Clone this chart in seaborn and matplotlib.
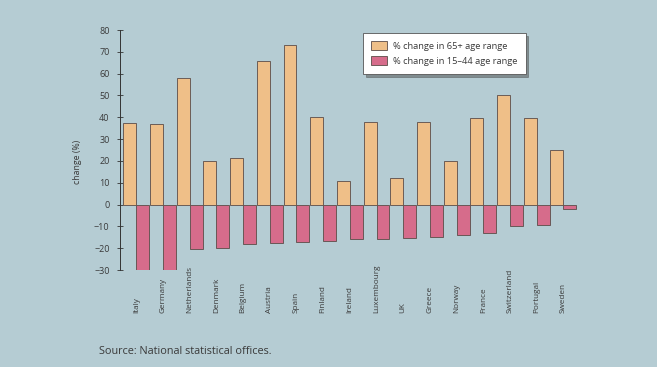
import matplotlib
matplotlib.use("Agg")
import matplotlib.pyplot as plt
import seaborn as sns
import pandas as pd

countries = ["Italy", "Germany", "Netherlands", "Denmark", "Belgium", "Austria", "Spain",
             "Finland", "Ireland", "Luxembourg", "UK", "Greece", "Norway", "France",
             "Switzerland", "Portugal", "Sweden"]
change_65plus = [37.5, 37, 58, 20, 21.5, 66, 73, 40, 11, 38, 12, 38, 20, 39.5, 50, 39.5, 25]
change_15_44 = [-30, -30, -20.5, -20, -18, -17.5, -17, -16.5, -16, -16, -15.5, -15, -14, -13,
                -10, -9.5, -2]
series_names = ["% change in 65+ age range", "% change in 15\u201344 age range"]
y_ticks = [-30, -20, -10, 0, 10, 20, 30, 40, 50, 60, 70, 80]
y_label = "change (%)"
source_text = "Source: National statistical offices."

BG = "#b5ccd3"
ORANGE = "#efbf88"
PINK = "#d66c8b"
TXT = "#3a3a3a"

df = pd.DataFrame({
    "country": countries * 2,
    "series": [series_names[0]] * len(countries) + [series_names[1]] * len(countries),
    "value": change_65plus + change_15_44,
})

sns.set_theme(style="white")
plt.rcParams["font.family"] = ["Open Sans", "DejaVu Sans"]

W, H = 657, 367
fig = plt.figure(figsize=(W / 100, H / 100), dpi=100, facecolor=BG)
ax_left, ax_right, ax_top, ax_bottom = 120, 600, 30, 270
ax = fig.add_axes([ax_left / W, 1 - ax_bottom / H, (ax_right - ax_left) / W, (ax_bottom - ax_top) / H])
ax.set_facecolor(BG)

sns.barplot(data=df, x="country", y="value", hue="series", hue_order=series_names,
            palette=[ORANGE, PINK], saturation=1, width=0.97, gap=0, dodge=True,
            edgecolor="#5b4c48", linewidth=0.6, ax=ax, legend=True)

ax.set_xlim(-0.61, 17.37)
ax.set_ylim(-30, 80)
ax.set_yticks(y_ticks)
ax.set_yticklabels([f"\u2212{abs(v)}" if v < 0 else str(v) for v in y_ticks])

for s in ["top", "right", "bottom"]:
    ax.spines[s].set_visible(False)
ax.spines["left"].set_color("#333333")
ax.spines["left"].set_linewidth(0.7)

ax.tick_params(axis="y", direction="inout", length=5, width=0.6, color="#333333",
               labelsize=6.5, labelcolor=TXT, pad=5, left=True)
ax.tick_params(axis="x", length=0, labelsize=5.9, labelcolor=TXT, pad=31)
for lab in ax.get_xticklabels():
    lab.set_rotation(90)
    lab.set_va("bottom")
    lab.set_ha("center")

ax.set_xlabel("")
ax.set_ylabel(y_label, fontsize=6.3, color=TXT)
ax.yaxis.set_label_coords(-0.08, 0.45)

handles, labels = ax.get_legend_handles_labels()
ax.get_legend().remove()
leg = fig.legend(handles, labels, loc="upper left",
                 bbox_to_anchor=(363 / W, 1 - 33 / H), bbox_transform=fig.transFigure,
                 frameon=True, fancybox=False, shadow=True, fontsize=6.7,
                 handlelength=1.7, handleheight=1.05, handletextpad=0.6,
                 labelspacing=0.6, borderpad=0.9, borderaxespad=0)
leg.get_frame().set_facecolor("white")
leg.get_frame().set_edgecolor("#555555")
leg.get_frame().set_linewidth(0.6)
for t in leg.get_texts():
    t.set_color(TXT)

fig.text(99 / W, 1 - 351 / H, source_text, fontsize=7.8, color=TXT, va="center", ha="left")

fig.savefig("out.png", dpi=100, facecolor=BG)
